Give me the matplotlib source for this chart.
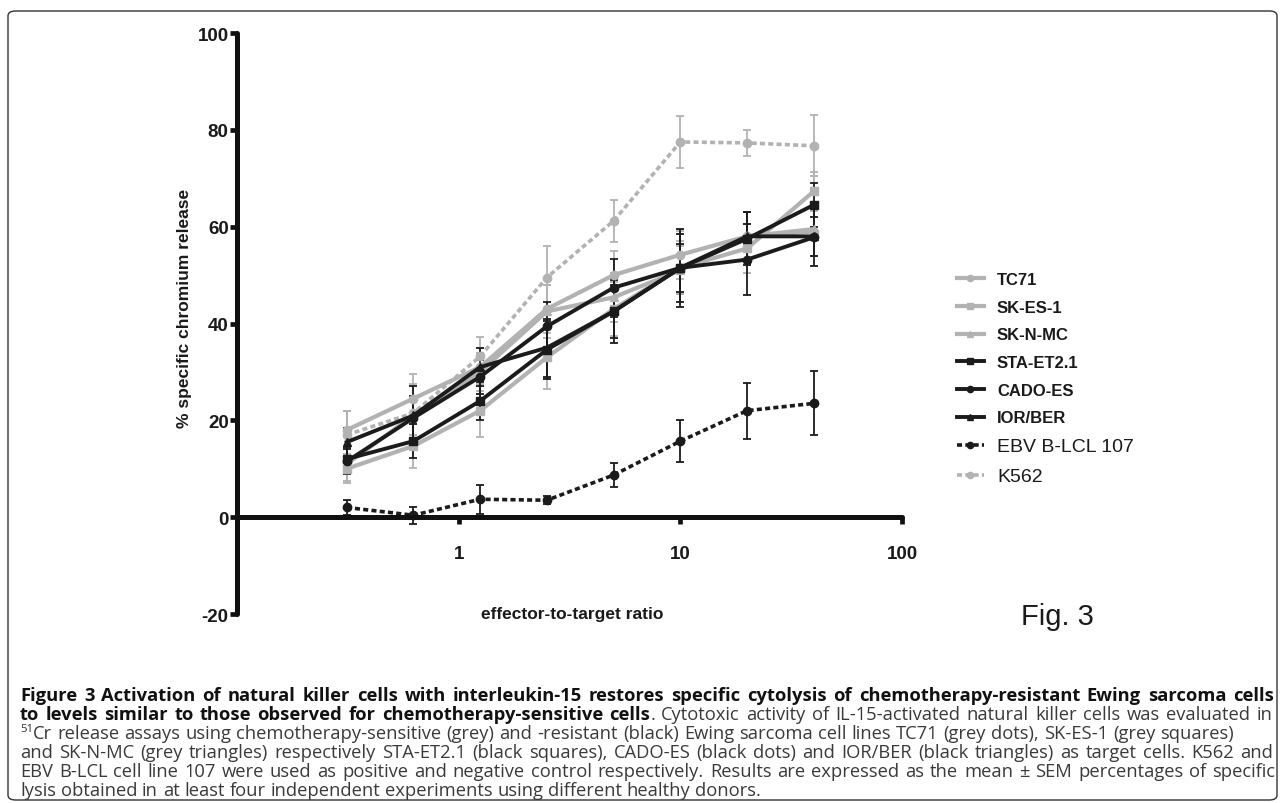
import matplotlib
matplotlib.use("Agg")
import matplotlib.pyplot as plt
from matplotlib.patches import FancyBboxPatch
from matplotlib.lines import Line2D

# effector-to-target ratios
et_ratio = [0.3125, 0.625, 1.25, 2.5, 5, 10, 20, 40]

# % specific chromium release (mean, SEM)
tc71 = [18.0, 24.5, 31.0, 43.0, 50.0, 54.2, 58.0, 59.0]
tc71_err = [4.0, 5.0, 4.0, 5.0, 5.0, 5.0, 5.0, 5.0]
sk_es1 = [10.0, 14.7, 22.0, 33.0, 43.0, 51.5, 55.5, 67.3]
sk_es1_err = [3.0, 4.5, 5.5, 6.5, 5.5, 5.5, 5.0, 4.0]
sk_nmc = [11.0, 21.0, 30.0, 42.5, 45.4, 51.0, 58.0, 59.5]
sk_nmc_err = [3.5, 4.0, 4.0, 5.5, 5.0, 5.0, 5.0, 5.5]

sta_et21 = [12.0, 15.7, 24.0, 34.6, 42.5, 51.5, 57.5, 64.5]
sta_et21_err = [2.5, 3.5, 4.0, 6.0, 6.5, 7.0, 5.5, 4.5]
cado_es = [11.5, 20.5, 29.0, 39.4, 47.4, 51.5, 53.2, 57.8]
cado_es_err = [2.5, 4.5, 3.5, 5.0, 6.0, 8.0, 7.3, 6.0]
ior_ber = [15.5, 21.0, 31.0, 35.0, 42.5, 51.5, 58.0, 58.0]
ior_ber_err = [3.0, 6.0, 4.0, 6.0, 5.5, 5.0, 5.0, 4.0]

ebv = [2.0, 0.4, 3.7, 3.5, 8.7, 15.7, 22.0, 23.5]
ebv_err = [1.5, 1.8, 3.0, 0.8, 2.5, 4.3, 5.8, 6.6]
k562 = [17.0, 21.5, 33.2, 49.5, 61.2, 77.5, 77.3, 76.7]
k562_err = [5.0, 6.0, 4.0, 6.6, 4.4, 5.4, 2.7, 6.3]

labels = ["TC71", "SK-ES-1", "SK-N-MC", "STA-ET2.1", "CADO-ES", "IOR/BER",
          "EBV B-LCL 107", "K562"]

y_ticks = [-20, 0, 20, 40, 60, 80, 100]
x_ticks = [1, 10, 100]

GREY = "#b2b2b2"
BLACK = "#1b1b1b"
W, H = 1282, 804

fig = plt.figure(figsize=(W / 100, H / 100), dpi=100)


def fx(x):
    return x / W


def fy(y):
    return 1 - y / H


# outer frame
fig.add_artist(FancyBboxPatch((fx(8), fy(801)), fx(1269), (801 - 12) / H,
                              boxstyle="round,pad=0,rounding_size=0.006",
                              transform=fig.transFigure, fill=False,
                              ec="#333333", lw=1.0))

ax = fig.add_axes([fx(237), fy(615), (902 - 237) / W, (615 - 34) / H])
ax.set_xscale("log")
ax.set_xlim(0.1, 100)
ax.set_ylim(-20, 100)

series = [
    (k562, k562_err, GREY, "o", (0, (1.4, 0.9)), 2.6),
    (tc71, tc71_err, GREY, "o", "-", 3.0),
    (sk_es1, sk_es1_err, GREY, "s", "-", 3.0),
    (sk_nmc, sk_nmc_err, GREY, "^", "-", 3.0),
    (sta_et21, sta_et21_err, BLACK, "s", "-", 2.8),
    (cado_es, cado_es_err, BLACK, "o", "-", 2.8),
    (ior_ber, ior_ber_err, BLACK, "^", "-", 2.8),
    (ebv, ebv_err, BLACK, "o", (0, (1.4, 0.9)), 2.6),
]
for vals, err, col, mk, ls, lw in series:
    ax.errorbar(et_ratio, vals, yerr=err, color=col, marker=mk,
                markersize=6, linestyle=ls, linewidth=lw,
                elinewidth=1.3, capsize=3, capthick=1.3)

for s in ["top", "right"]:
    ax.spines[s].set_visible(False)
ax.spines["bottom"].set_position(("data", 0))
for s in ["left", "bottom"]:
    ax.spines[s].set_linewidth(3.6)
    ax.spines[s].set_color("#111111")
    ax.spines[s].set_capstyle("round")

ax.set_yticks(y_ticks)
ax.set_yticklabels([str(t) for t in y_ticks])
ax.set_xticks(x_ticks)
ax.set_xticklabels([str(t) for t in x_ticks])
ax.xaxis.set_minor_locator(matplotlib.ticker.NullLocator())
ax.tick_params(axis="y", direction="out", length=5, width=3.4, pad=1,
               color="#111111")
ax.tick_params(axis="x", direction="out", length=5, width=3.4, pad=15,
               color="#111111")
for t in ax.get_xticklabels() + ax.get_yticklabels():
    t.set_family("Liberation Sans")
    t.set_weight("bold")
    t.set_size(13.5)
    t.set_color("#1a1a1a")

fig.text(fx(185), fy(308), "% specific chromium release", rotation=90,
         ha="center", va="center", family="Liberation Sans", weight="bold",
         size=12.5, color="#1a1a1a")
fig.text(fx(572), fy(615), "effector-to-target ratio", ha="center",
         va="center", family="Liberation Sans", weight="bold", size=12.5,
         color="#1a1a1a")
fig.text(fx(1057), fy(617), "Fig. 3", ha="center", va="center",
         family="Liberation Sans", size=21, color="#1a1a1a")

# legend order: TC71..IOR/BER, EBV, K562
order = series[1:] + series[:1]
handles = [Line2D([], [], color=col, marker=mk, markersize=4.5,
                  linestyle=ls, linewidth=lw)
           for (vals, err, col, mk, ls, lw) in order]
leg = fig.legend(handles, labels, loc="upper left",
                 bbox_to_anchor=(fx(942), fy(258)), frameon=False,
                 handlelength=1.6, handletextpad=0.8, labelspacing=0.76,
                 prop={"family": "Liberation Sans", "weight": "bold",
                       "size": 12})
for i, t in enumerate(leg.get_texts()):
    t.set_color("#1a1a1a")
    if i >= 6:
        t.set_weight("normal")
        t.set_size(14)

# caption, justified line by line
cap_lines = [
    ([("Figure 3 Activation of natural killer cells with interleukin-15 restores "
       "specific cytolysis of chemotherapy-resistant Ewing sarcoma cells", "bold")], 1274),
    ([("to levels similar to those observed for chemotherapy-sensitive cells", "bold"),
      (". Cytotoxic activity of IL-15-activated natural killer cells was evaluated in",
       "normal")], 1272),
    ([("51", "sup"),
      ("Cr release assays using chemotherapy-sensitive (grey) and -resistant (black) "
       "Ewing sarcoma cell lines TC71 (grey dots), SK-ES-1 (grey squares)", "normal")], 1234),
    ([("and SK-N-MC (grey triangles) respectively STA-ET2.1 (black squares), CADO-ES "
       "(black dots) and IOR/BER (black triangles) as target cells. K562 and", "normal")], 1273),
    ([("EBV B-LCL cell line 107 were used as positive and negative control respectively. "
       "Results are expressed as the mean \u00b1 SEM percentages of specific", "normal")], 1275),
    ([("lysis obtained in at least four independent experiments using different "
       "healthy donors.", "normal")], None),
]
renderer = fig.canvas.get_renderer()

# pick the caption size so the first (bold) line nearly fills the width
probe = fig.text(0, 0, cap_lines[0][0][0][0], family="Open Sans",
                 weight="bold", size=10)
cap_size = 10 * 1225 / probe.get_window_extent(renderer).width
probe.remove()

x0 = 20
baselines = [701, 720, 739, 758, 777, 796]

for (segs, x1), yb in zip(cap_lines, baselines):
    units = []
    for k, (txt, style) in enumerate(segs):
        words = txt.split(" ")
        for j, w in enumerate(words):
            if style == "sup":
                t = fig.text(0, fy(yb - 7), w, family="Open Sans",
                             size=cap_size * 0.62, va="baseline",
                             color="#333333")
            else:
                t = fig.text(0, fy(yb), w, family="Open Sans", weight=style,
                             size=cap_size, va="baseline",
                             color="#111111" if style == "bold" else "#3a3a3a")
            if j == 0 and k > 0:
                units[-1].append(t)
            else:
                units.append([t])
    widths = [[t.get_window_extent(renderer).width for t in u] for u in units]
    total = sum(sum(w) for w in widths)
    space = cap_size * 100 / 72 * 0.26
    if x1 is not None and len(units) > 1:
        space = (x1 - x0 - total) / (len(units) - 1)
    x = x0
    for u, ws in zip(units, widths):
        for t, w in zip(u, ws):
            t.set_x(fx(x))
            x += w
        x += space

fig.savefig("out.png", dpi=100)
